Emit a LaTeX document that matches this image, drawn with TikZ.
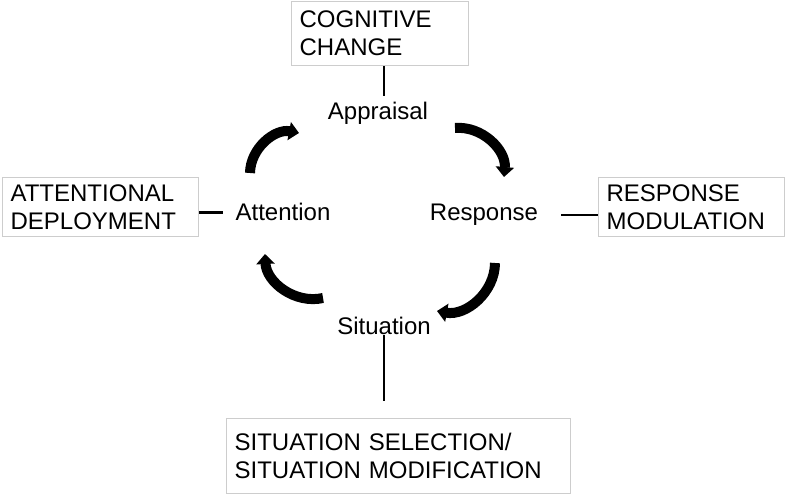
\documentclass[tikz,border=0pt]{standalone}
\usepackage{fontspec}
\setmainfont{Liberation Sans}
\usepackage{tikz}
\usetikzlibrary{positioning, calc, arrows.meta}
\definecolor{boxgray}{RGB}{205, 205, 205}
\tikzset{
    stagebox/.style={
        draw=boxgray, line width=0.6pt, align=left, anchor=north west,
        inner xsep=4pt, inner ysep=0pt, font=\fontsize{12}{14}\selectfont
    },
    stagelabel/.style={
        font=\fontsize{12}{14}\selectfont, anchor=base
    },
    link/.style={
        line width=1.2pt, black
    }
}
\begin{document}
\begin{tikzpicture}[
        x=0.5pt, y=-0.5pt,
        % --- STYLE ---
        cyclearrow/.style={
            line width=5pt, black,
            -{Triangle[width=9pt, length=5pt]}, bend left=50
        }
    ]
        \useasboundingbox (0,0) rectangle (786,496);

        % --- 1. BOXES ---
        \node[stagebox, text width=80.5pt, minimum height=32pt] (cogbox) at (291,1)
            {COGNITIVE\\CHANGE};
        \node[stagebox, text width=90pt, minimum height=29.5pt] (attbox) at (2,177)
            {ATTENTIONAL\\DEPLOYMENT};
        \node[stagebox, text width=85pt, minimum height=29.5pt] (respbox) at (598,177)
            {RESPONSE\\MODULATION};
        \node[stagebox, text width=164pt, minimum height=37.5pt] (selbox) at (226,418)
            {SITUATION SELECTION/\\SITUATION MODIFICATION};

        % --- 2. CYCLE LABELS ---
        \node[stagelabel] (appraisal) at (378,120) {Appraisal};
        \node[stagelabel] (attention) at (283,221) {Attention};
        \node[stagelabel] (response) at (484,221) {Response};
        \node[stagelabel] (situation) at (384,335) {Situation};

        % --- 3. LINKS ---
        \draw[link] ([xshift=2pt]cogbox.south) -- ([xshift=2pt]cogbox.south |- appraisal.north);
        \draw[link, shorten >=3pt] (attention.west -| attbox.east) -- (attention.west);
        \draw[link, shorten <=8pt] (response.east) -- (response.east -| respbox.west);
        \draw[link, shorten >=8.5pt] (situation.base) -- (situation.base |- selbox.north);

        % --- 4. CYCLE ARROWS ---
        \coordinate (a1s) at (250,173);
        \coordinate (a1e) at (299,133);
        \coordinate (a2s) at (455,128);
        \coordinate (a2e) at (504,177);
        \coordinate (a3s) at (495,263);
        \coordinate (a3e) at (437,311);
        \coordinate (a4s) at (323,298);
        \coordinate (a4e) at (265,254);
        \draw[cyclearrow] (a1s) to (a1e);
        \draw[cyclearrow] (a2s) to (a2e);
        \draw[cyclearrow] (a3s) to (a3e);
        \draw[cyclearrow] (a4s) to (a4e);

    \end{tikzpicture}
\end{document}
